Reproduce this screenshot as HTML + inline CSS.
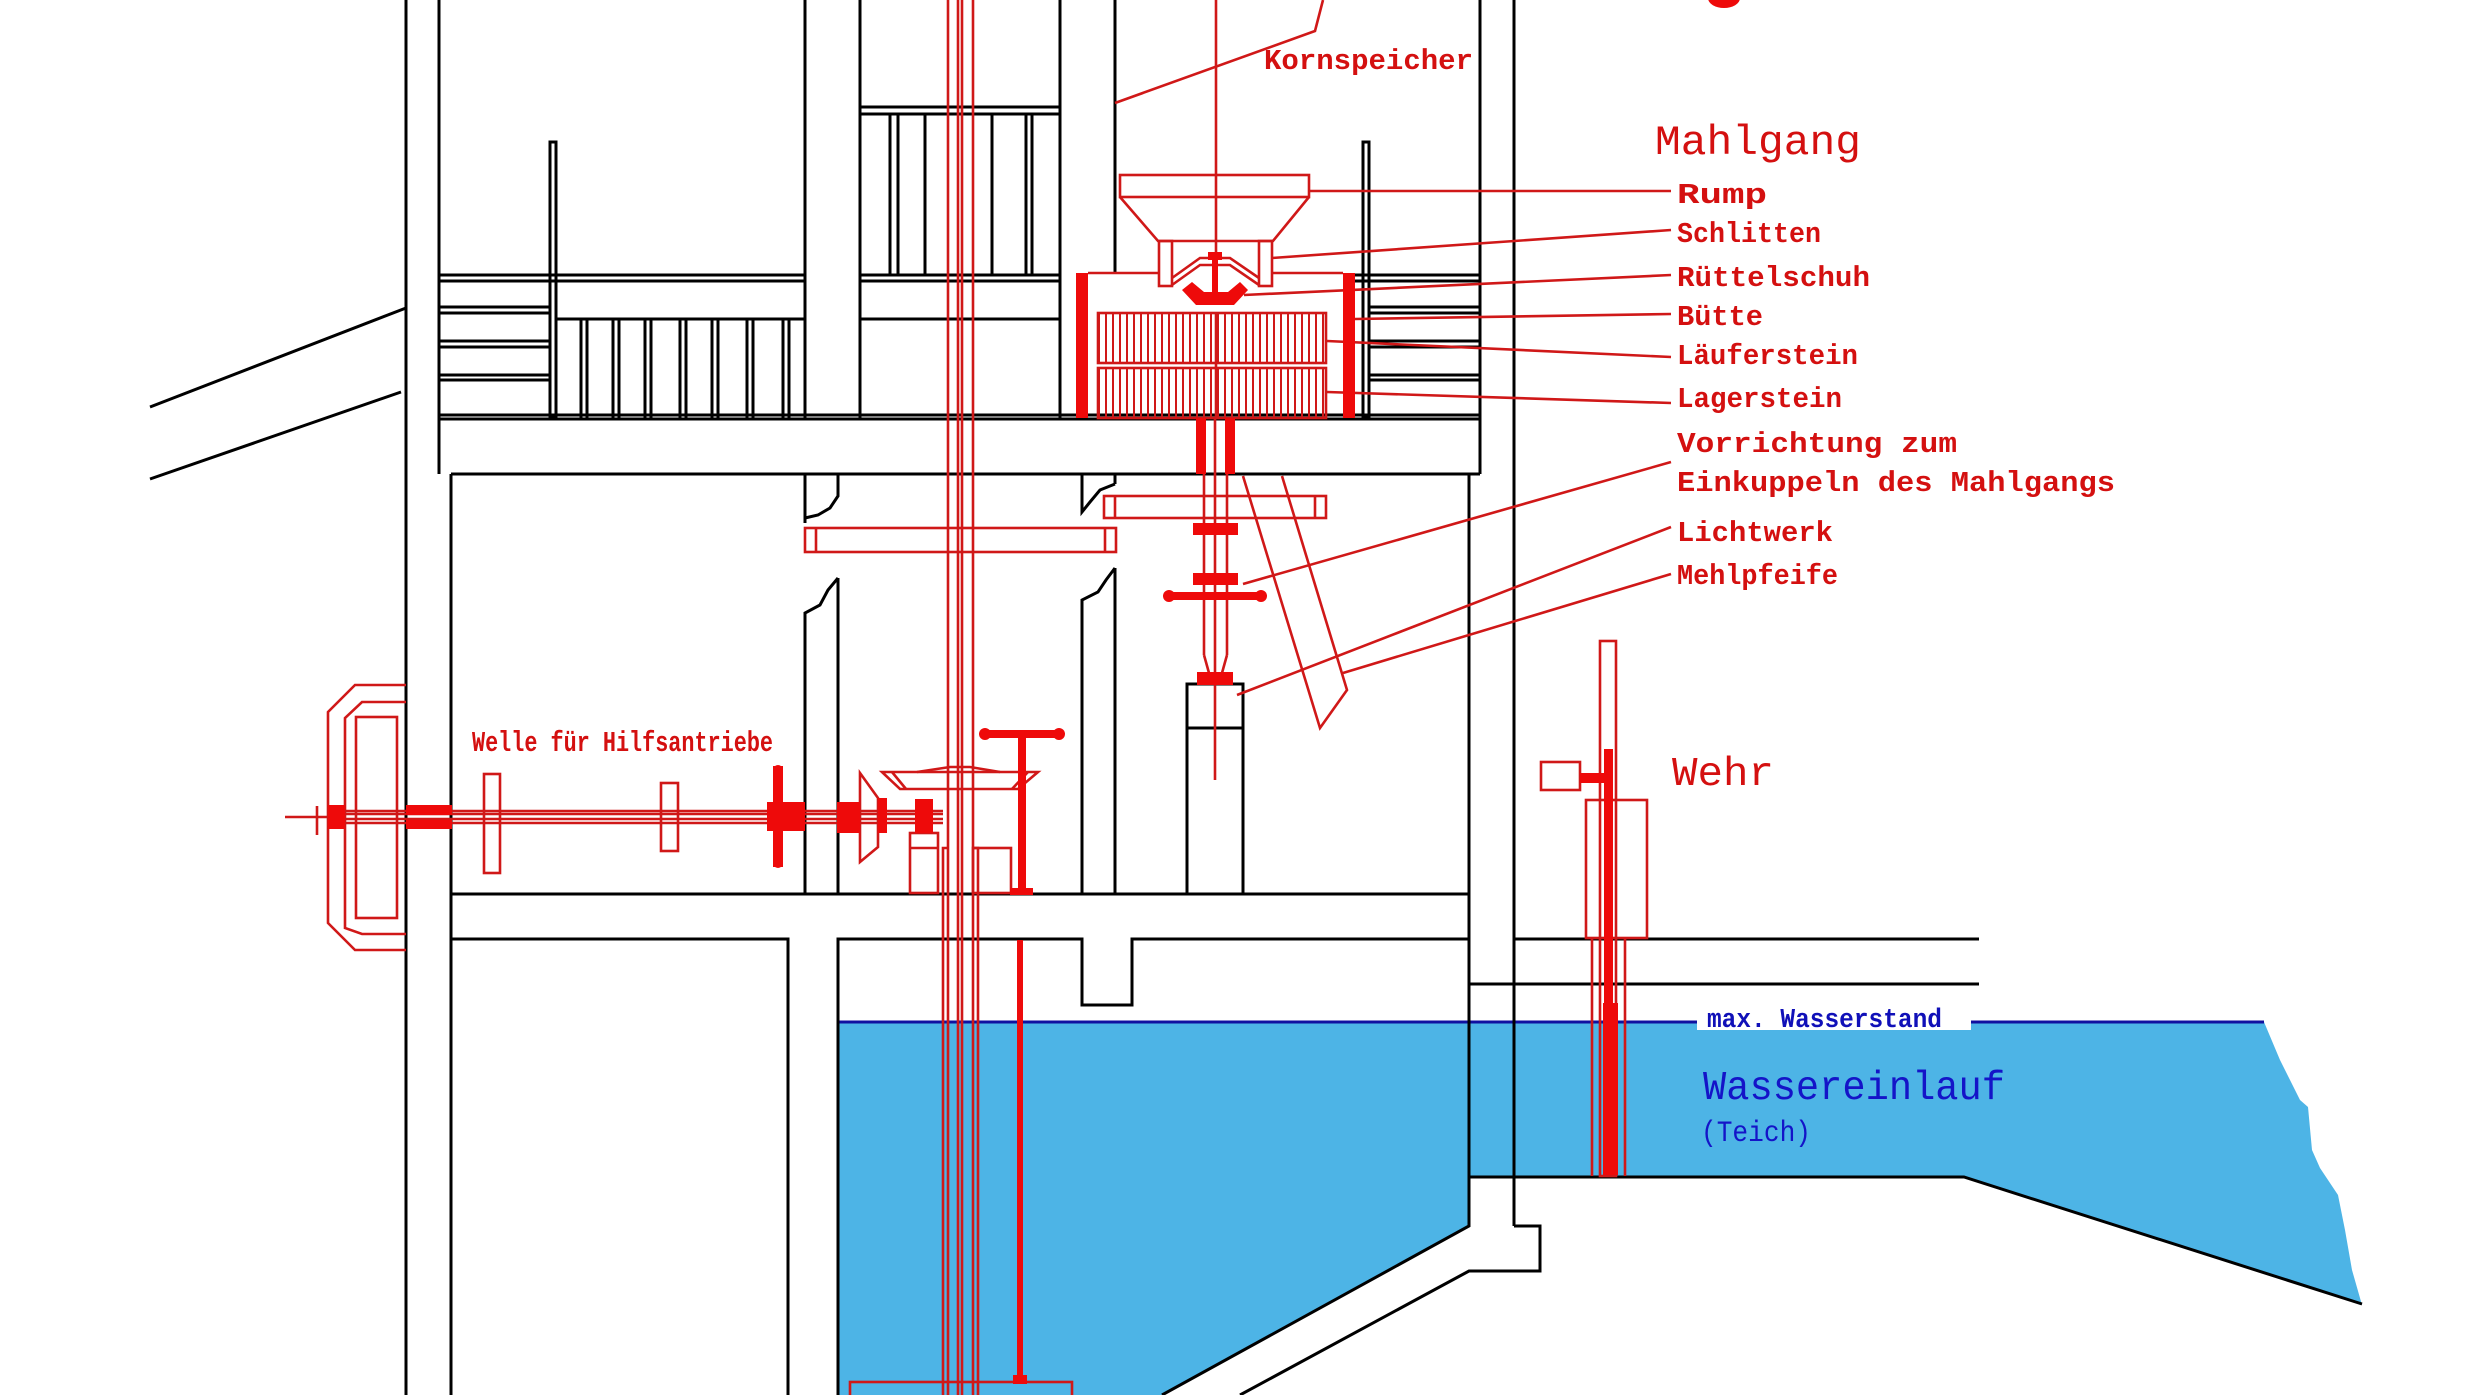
<!DOCTYPE html>
<html><head><meta charset="utf-8"><style>
html,body{margin:0;padding:0;background:#fff}
svg{display:block}
.k{stroke:#000;stroke-width:3;fill:none}
.r{stroke:#d01818;stroke-width:2.6;fill:none}
.rf{fill:#ee0a0a;stroke:none}
text{font-family:"Liberation Mono",monospace}
.lb{fill:#d41010;font-weight:bold;font-size:29px}
</style></head><body>
<svg width="2480" height="1395" viewBox="0 0 2480 1395" xmlns="http://www.w3.org/2000/svg">
<defs>
<pattern id="sl" x="1098" y="0" width="7" height="10" patternUnits="userSpaceOnUse"><rect x="0" y="0" width="2" height="10" fill="#d01818"/></pattern>
</defs>
<!-- water -->
<polygon points="838,1022 1514,1022 1514,1177 1469,1177 1469,1226 1162,1395 838,1395" fill="#4db4e6"/>
<polygon points="1514,1022 2264,1022 2280,1060 2300,1100 2308,1107 2312,1150 2320,1168 2338,1195 2345,1230 2352,1270 2362,1305 1964,1177 1514,1177" fill="#4db4e6"/>
<rect x="1697" y="1006" width="274" height="24" fill="#fff"/>
<line x1="838" y1="1022" x2="1697" y2="1022" stroke="#1010a0" stroke-width="3"/>
<line x1="1971" y1="1022" x2="2264" y2="1022" stroke="#1010a0" stroke-width="3"/>

<!-- black structure -->
<g class="k">
<line x1="406" y1="0" x2="406" y2="1395"/>
<line x1="439" y1="0" x2="439" y2="474"/>
<line x1="451" y1="474" x2="451" y2="1395"/>
<line x1="150" y1="407" x2="406" y2="308"/>
<line x1="150" y1="479" x2="401" y2="392"/>
<line x1="439" y1="415" x2="1480" y2="415"/>
<line x1="439" y1="419" x2="1480" y2="419"/>
<line x1="451" y1="474" x2="1480" y2="474"/>
<line x1="1480" y1="0" x2="1480" y2="474"/>
<line x1="1514" y1="0" x2="1514" y2="1226"/>
<polyline points="1514,1226 1540,1226 1540,1271 1469,1271 1240,1395"/>
<polyline points="1469,474 1469,1226 1162,1395"/>
<line x1="805" y1="0" x2="805" y2="419"/>
<line x1="860" y1="0" x2="860" y2="419"/>
<line x1="1060" y1="0" x2="1060" y2="419"/>
<line x1="1115" y1="0" x2="1115" y2="273"/>
<!-- Kornspeicher bin -->
<line x1="860" y1="107" x2="1060" y2="107"/><line x1="860" y1="114" x2="1060" y2="114"/>
<line x1="890" y1="114" x2="890" y2="275"/><line x1="898" y1="114" x2="898" y2="275"/>
<line x1="925" y1="114" x2="925" y2="275"/><line x1="992" y1="114" x2="992" y2="275"/>
<line x1="1026" y1="114" x2="1026" y2="275"/><line x1="1032" y1="114" x2="1032" y2="275"/>
<line x1="439" y1="275" x2="805" y2="275"/><line x1="439" y1="281" x2="805" y2="281"/>
<line x1="860" y1="275" x2="1060" y2="275"/><line x1="860" y1="281" x2="1060" y2="281"/>
<line x1="557" y1="319" x2="805" y2="319"/><line x1="860" y1="319" x2="1060" y2="319"/>
<line x1="439" y1="307" x2="550" y2="307"/><line x1="439" y1="313" x2="550" y2="313"/>
<line x1="439" y1="341" x2="550" y2="341"/><line x1="439" y1="347" x2="550" y2="347"/>
<line x1="439" y1="375" x2="550" y2="375"/><line x1="439" y1="380" x2="550" y2="380"/>
<rect x="550" y="142" width="6" height="276"/>
<line x1="581" y1="319" x2="581" y2="418"/><line x1="587" y1="319" x2="587" y2="418"/>
<line x1="613" y1="319" x2="613" y2="418"/><line x1="619" y1="319" x2="619" y2="418"/>
<line x1="645" y1="319" x2="645" y2="418"/><line x1="651" y1="319" x2="651" y2="418"/>
<line x1="680" y1="319" x2="680" y2="418"/><line x1="686" y1="319" x2="686" y2="418"/>
<line x1="712" y1="319" x2="712" y2="418"/><line x1="718" y1="319" x2="718" y2="418"/>
<line x1="747" y1="319" x2="747" y2="418"/><line x1="753" y1="319" x2="753" y2="418"/>
<line x1="783" y1="319" x2="783" y2="418"/><line x1="789" y1="319" x2="789" y2="418"/>
<!-- right stair -->
<rect x="1363" y="142" width="6" height="276"/>
<line x1="1351" y1="275" x2="1480" y2="275"/><line x1="1351" y1="281" x2="1480" y2="281"/>
<line x1="1369" y1="307" x2="1480" y2="307"/><line x1="1369" y1="313" x2="1480" y2="313"/>
<line x1="1369" y1="341" x2="1480" y2="341"/><line x1="1369" y1="347" x2="1480" y2="347"/>
<line x1="1369" y1="375" x2="1480" y2="375"/><line x1="1369" y1="380" x2="1480" y2="380"/>
<!-- lower columns -->
<polyline points="805,474 805,523"/><polyline points="838,474 838,496 830,508 818,515 805,518"/>
<polyline points="838,578 838,894"/><polyline points="838,578 828,590 820,605 805,613 805,894"/>
<polyline points="1115,474 1115,484"/><polyline points="1115,484 1100,490 1090,502 1082,512 1082,474"/>
<polyline points="1115,568 1115,894"/><polyline points="1115,568 1106,580 1098,592 1082,600 1082,894"/>
<rect x="1187" y="684" width="56" height="210"/><line x1="1187" y1="728" x2="1243" y2="728"/>
<!-- lower floors -->
<line x1="451" y1="894" x2="1469" y2="894"/>
<polyline points="451,939 788,939 788,1395"/>
<polyline points="838,1395 838,939 1082,939 1082,1005 1132,1005 1132,939 1469,939"/>
<line x1="1514" y1="939" x2="1979" y2="939"/>
<line x1="1469" y1="984" x2="1979" y2="984"/>
<polyline points="1469,1177 1964,1177 2362,1304" />
</g>

<!-- RED mechanism -->
<g class="r">
<!-- main shaft -->
<line x1="948" y1="0" x2="948" y2="1395"/><line x1="958" y1="0" x2="958" y2="1395"/>
<line x1="962" y1="0" x2="962" y2="1395"/><line x1="973" y1="0" x2="973" y2="1395"/>
<polyline points="943,1395 943,848 948,848"/><polyline points="978,1395 978,848 973,848"/>
<rect x="805" y="528" width="311" height="24"/><line x1="816" y1="528" x2="816" y2="552"/><line x1="1105" y1="528" x2="1105" y2="552"/>
<!-- feed line & kornspeicher leader -->
<line x1="1216" y1="0" x2="1216" y2="252"/>
<polyline points="1115,103 1315,31 1323,0"/>
<!-- hopper -->
<rect x="1120" y="175" width="189" height="22"/>
<polyline points="1120,197 1158,241 1273,241 1309,197"/>
<rect x="1159" y="241" width="13" height="45"/><rect x="1259" y="241" width="13" height="45"/>
<polyline points="1172,278 1200,258 1230,258 1259,278"/><polyline points="1172,285 1200,265 1230,265 1259,285"/>
<!-- Bütte -->
<polyline points="1088,273 1158,273"/><polyline points="1272,273 1343,273"/>
<rect x="1098" y="313" width="228" height="50" fill="url(#sl)"/>
<rect x="1098" y="368" width="228" height="50" fill="url(#sl)"/>
<line x1="1216" y1="313" x2="1216" y2="418"/>
<!-- below stones -->
<line x1="1204" y1="418" x2="1204" y2="655"/><line x1="1227" y1="418" x2="1227" y2="655"/>
<line x1="1215" y1="418" x2="1215" y2="780"/>
<rect x="1104" y="496" width="222" height="22"/><line x1="1115" y1="496" x2="1115" y2="518"/><line x1="1315" y1="496" x2="1315" y2="518"/>
<polyline points="1204,655 1209,673"/><polyline points="1227,655 1222,673"/>
<!-- Mehlpfeife tube -->
<polyline points="1243,476 1320,728 1347,690 1282,476"/>
<!-- leaders -->
<line x1="1310" y1="191" x2="1671" y2="191"/>
<line x1="1272" y1="258" x2="1671" y2="230"/>
<line x1="1244" y1="295" x2="1671" y2="275"/>
<line x1="1355" y1="319" x2="1671" y2="314"/>
<line x1="1327" y1="341" x2="1671" y2="357"/>
<line x1="1327" y1="392" x2="1671" y2="403"/>
<line x1="1243" y1="584" x2="1671" y2="462"/>
<line x1="1237" y1="695" x2="1671" y2="527"/>
<line x1="1343" y1="673" x2="1671" y2="574"/>
<!-- horizontal shaft -->
<line x1="285" y1="817" x2="328" y2="817"/>
<line x1="317" y1="806" x2="317" y2="835"/>
<line x1="328" y1="811" x2="943" y2="811"/><line x1="328" y1="823" x2="943" y2="823"/>
<line x1="328" y1="814" x2="943" y2="814"/><line x1="328" y1="819" x2="943" y2="819"/>
<polyline points="406,685 355,685 328,712 328,923 355,950 406,950"/>
<polyline points="406,702 362,702 345,718 345,928 362,934 406,934"/>
<rect x="356" y="717" width="41" height="201"/>
<rect x="484" y="774" width="16" height="99"/>
<rect x="661" y="783" width="17" height="68"/>
<!-- bevel gears -->
<polygon points="860,773 878,798 878,847 860,862"/>
<polygon points="882,772 1038,772 1018,789 900,789"/>
<polyline points="917,772 950,767 970,767 1000,772"/>
<polyline points="892,772 906,789"/><polyline points="1028,772 1012,789"/>
<rect x="910" y="833" width="28" height="60"/><line x1="910" y1="848" x2="938" y2="848"/>
<rect x="973" y="848" width="38" height="45"/>
<rect x="850" y="1382" width="222" height="18"/>
<!-- wehr -->
<rect x="1600" y="641" width="16" height="535"/>
<rect x="1586" y="800" width="61" height="138"/>
<line x1="1592" y1="938" x2="1592" y2="1176"/><line x1="1625" y1="938" x2="1625" y2="1176"/>
<rect x="1541" y="762" width="39" height="28"/>
</g>
<g class="rf">
<rect x="1076" y="273" width="12" height="145"/>
<rect x="1343" y="273" width="12" height="145"/>
<rect x="1208" y="252" width="14" height="8"/>
<rect x="1212" y="260" width="6" height="33"/>
<path d="M1182,290 L1192,282 L1204,292 L1228,292 L1240,282 L1248,290 L1234,305 L1196,305 Z"/>
<rect x="1196" y="418" width="10" height="56"/><rect x="1225" y="418" width="10" height="56"/>
<rect x="1193" y="523" width="45" height="12"/><rect x="1193" y="573" width="45" height="12"/>
<rect x="1165" y="592" width="100" height="8"/><circle cx="1169" cy="596" r="6"/><circle cx="1261" cy="596" r="6"/>
<rect x="1197" y="672" width="36" height="13"/>
<rect x="328" y="805" width="17" height="24"/>
<rect x="406" y="805" width="46" height="10"/><rect x="406" y="820" width="46" height="9"/>
<rect x="773" y="766" width="10" height="101"/><circle cx="778" cy="770" r="5"/><circle cx="778" cy="863" r="5"/>
<rect x="767" y="802" width="38" height="29"/>
<rect x="837" y="802" width="23" height="31"/>
<rect x="878" y="798" width="9" height="35"/>
<rect x="915" y="799" width="18" height="34"/>
<rect x="982" y="730" width="80" height="8"/><circle cx="985" cy="734" r="6"/><circle cx="1059" cy="734" r="6"/>
<rect x="1018" y="738" width="8" height="152"/><rect x="1010" y="888" width="23" height="7"/>
<rect x="1017" y="940" width="6" height="440"/><rect x="1013" y="1375" width="14" height="9"/>
<rect x="1604" y="749" width="9" height="254"/>
<rect x="1603" y="1003" width="15" height="172"/>
<rect x="1580" y="773" width="24" height="10"/>
<ellipse cx="1724" cy="-2" rx="16" ry="10"/>
</g>

<!-- labels -->
<text class="lb" x="1264" y="69" textLength="209" lengthAdjust="spacingAndGlyphs">Kornspeicher</text>
<text x="1655" y="154" font-size="42" fill="#d41010" textLength="206" lengthAdjust="spacingAndGlyphs">Mahlgang</text>
<text class="lb" x="1677" y="203" textLength="90" lengthAdjust="spacingAndGlyphs">Rump</text>
<text class="lb" x="1677" y="242" textLength="144" lengthAdjust="spacingAndGlyphs">Schlitten</text>
<text class="lb" x="1677" y="286" textLength="193" lengthAdjust="spacingAndGlyphs">Rüttelschuh</text>
<text class="lb" x="1677" y="325" textLength="86" lengthAdjust="spacingAndGlyphs">Bütte</text>
<text class="lb" x="1677" y="364" textLength="181" lengthAdjust="spacingAndGlyphs">Läuferstein</text>
<text class="lb" x="1677" y="407" textLength="165" lengthAdjust="spacingAndGlyphs">Lagerstein</text>
<text class="lb" x="1677" y="452" textLength="280" lengthAdjust="spacingAndGlyphs">Vorrichtung zum</text>
<text class="lb" x="1677" y="491" textLength="438" lengthAdjust="spacingAndGlyphs">Einkuppeln des Mahlgangs</text>
<text class="lb" x="1677" y="541" textLength="156" lengthAdjust="spacingAndGlyphs">Lichtwerk</text>
<text class="lb" x="1677" y="584" textLength="161" lengthAdjust="spacingAndGlyphs">Mehlpfeife</text>
<text class="lb" x="472" y="751" font-size="28" textLength="301" lengthAdjust="spacingAndGlyphs">Welle für Hilfsantriebe</text>
<text x="1672" y="785" font-size="41" fill="#d41010" textLength="102" lengthAdjust="spacingAndGlyphs">Wehr</text>
<text x="1707" y="1027" font-size="27" font-weight="bold" fill="#1010b8" textLength="235" lengthAdjust="spacingAndGlyphs">max. Wasserstand</text>
<text x="1703" y="1099" font-size="41" fill="#1414c8" textLength="302" lengthAdjust="spacingAndGlyphs">Wassereinlauf</text>
<text x="1701" y="1141" font-size="30" fill="#1414c8" textLength="110" lengthAdjust="spacingAndGlyphs">(Teich)</text>
</svg>
</body></html>
